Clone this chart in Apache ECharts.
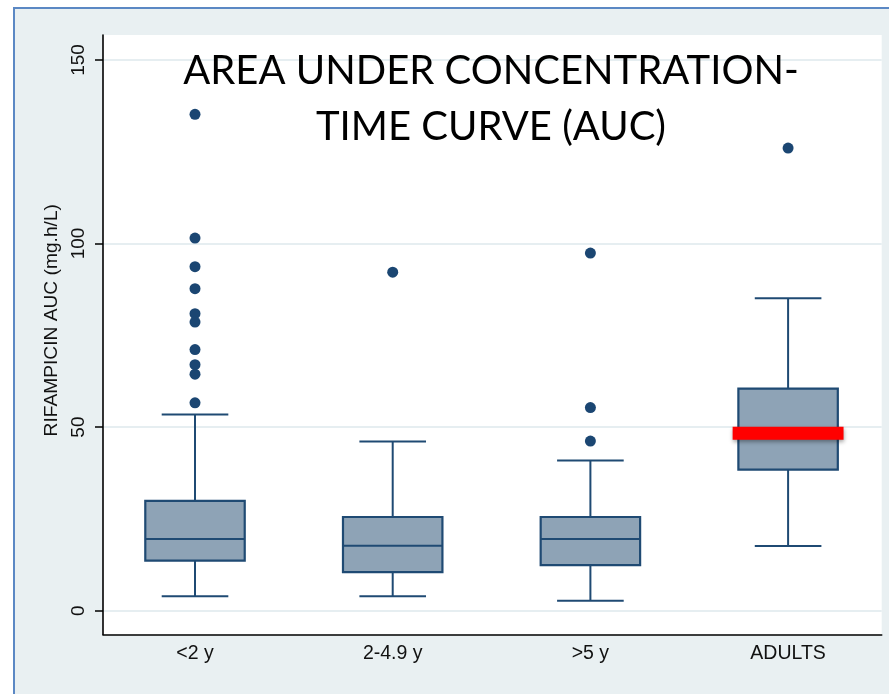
<!DOCTYPE html>
<html><head><meta charset="utf-8">
<script src="https://cdn.jsdelivr.net/npm/echarts@6/dist/echarts.min.js"></script>
<style>
html,body{margin:0;padding:0;background:#fff;width:889px;height:694px;overflow:hidden;}
#frame{position:absolute;left:13px;top:7px;width:900px;height:700px;background:#e9f0f2;border-top:2px solid #5b88c4;border-left:2px solid #5b88c4;}
#chart{position:absolute;left:0;top:0;width:889px;height:694px;}
</style></head><body>
<div id="frame"></div><div id="chart"></div>
<script>
const categories = ['<2 y', '2-4.9 y', '>5 y', 'ADULTS'];
const whiskerLow  = [3.9, 3.9, 2.7, 17.6];
const quartile1   = [13.6, 10.5, 12.4, 38.4];
const medians     = [19.5, 17.7, 19.5, 48.3];
const quartile3   = [29.9, 25.5, 25.5, 60.5];
const whiskerHigh = [53.4, 46.1, 40.9, 85.1];
const outliersUnder2 = [135.2, 101.5, 93.7, 87.7, 80.9, 78.6, 71.1, 67.0, 64.4, 56.6];
const outliers2to49  = [92.2];
const outliersOver5  = [97.4, 55.3, 46.2];
const outliersAdults = [126.0];
const yTicks = [0, 50, 100, 150];

const HIGHLIGHT = 'ADULTS';
const BOX_W = 0.503, CAP_W = 0.337, RED_W = 0.561;
const DARK = '#1f4a73', FILL = '#8ea3b6';

const boxData = categories.map((c, i) => [i, whiskerLow[i], quartile1[i], medians[i], quartile3[i], whiskerHigh[i]]);
const outlierGroups = [outliersUnder2, outliers2to49, outliersOver5, outliersAdults];
const outlierData = [];
outlierGroups.forEach((g, i) => g.forEach(v => outlierData.push([i, v])));

const chart = echarts.init(document.getElementById('chart'), null, {renderer: 'canvas'});
chart.setOption({
  backgroundColor: 'transparent',
  animation: false,
  title: {
    text: 'AREA UNDER CONCENTRATION-\nTIME CURVE (AUC)',
    left: 491, top: 43, textAlign: 'center', padding: 0,
    textStyle: {fontFamily: 'Lato', fontSize: 40, fontWeight: 'normal', lineHeight: 56, color: '#000'}
  },
  grid: {left: 103, right: 7.3, top: 35, bottom: 59.5, show: true, backgroundColor: '#fff', borderWidth: 0},
  xAxis: {
    type: 'value', min: -0.4654, max: 3.4735,
    axisLine: {show: true, onZero: false, lineStyle: {color: '#000', width: 1.6}},
    axisTick: {show: false, customValues: [0, 1, 2, 3]},
    splitLine: {show: false},
    axisLabel: {
      customValues: [0, 1, 2, 3], margin: 9,
      formatter: v => categories[Math.round(v)],
      fontFamily: 'Liberation Sans', fontSize: 19.5, color: '#111'
    }
  },
  yAxis: {
    type: 'value', min: -6.5, max: 156.8,
    name: 'RIFAMPICIN AUC (mg.h/L)', nameLocation: 'middle', nameGap: 37,
    nameTextStyle: {fontFamily: 'Liberation Sans', fontSize: 19.2, color: '#111', padding: [0, 0, 0, 29]},
    axisLine: {show: true, onZero: false, lineStyle: {color: '#000', width: 1.6}},
    axisTick: {show: true, customValues: yTicks, length: 8, lineStyle: {color: '#000', width: 1.5}},
    axisLabel: {customValues: yTicks, rotate: 90, margin: 15, fontFamily: 'Liberation Sans', fontSize: 19, color: '#111'},
    splitLine: {show: true, lineStyle: {color: '#e6eef1', width: 2}}
  },
  series: [
    {
      type: 'custom',
      data: boxData,
      encode: {x: 0, y: [1, 2, 3, 4, 5]},
      z: 3,
      renderItem: function (params, api) {
        const i = api.value(0);
        const pLow = api.coord([i, api.value(1)]);
        const pQ1 = api.coord([i, api.value(2)]);
        const pMed = api.coord([i, api.value(3)]);
        const pQ3 = api.coord([i, api.value(4)]);
        const pHigh = api.coord([i, api.value(5)]);
        const unit = api.size([1, 0])[0];
        const cx = pLow[0];
        const bh = unit * BOX_W / 2, ch = unit * CAP_W / 2;
        const ls = {stroke: DARK, lineWidth: 2};
        const children = [
          {type: 'line', shape: {x1: cx, y1: pQ3[1], x2: cx, y2: pHigh[1]}, style: ls},
          {type: 'line', shape: {x1: cx, y1: pQ1[1], x2: cx, y2: pLow[1]}, style: ls},
          {type: 'line', shape: {x1: cx - ch, y1: pHigh[1], x2: cx + ch, y2: pHigh[1]}, style: ls},
          {type: 'line', shape: {x1: cx - ch, y1: pLow[1], x2: cx + ch, y2: pLow[1]}, style: ls},
          {type: 'rect', shape: {x: cx - bh, y: pQ3[1], width: 2 * bh, height: pQ1[1] - pQ3[1]},
            style: {fill: FILL, stroke: DARK, lineWidth: 2.2}},
          {type: 'line', shape: {x1: cx - bh, y1: pMed[1], x2: cx + bh, y2: pMed[1]}, style: ls}
        ];
        if (categories[i] === HIGHLIGHT) {
          const rh = unit * RED_W / 2;
          children.push({type: 'line', shape: {x1: cx - rh, y1: pMed[1], x2: cx + rh, y2: pMed[1]},
            style: {stroke: '#ff0000', lineWidth: 13, lineCap: 'butt', shadowBlur: 4, shadowColor: 'rgba(0,0,0,0.35)', shadowOffsetY: 2}});
        }
        return {type: 'group', children: children};
      }
    },
    {
      type: 'scatter',
      data: outlierData,
      symbol: 'circle', symbolSize: 11,
      itemStyle: {color: '#1b4672', opacity: 1},
      z: 4
    }
  ]
});
</script></body></html>
